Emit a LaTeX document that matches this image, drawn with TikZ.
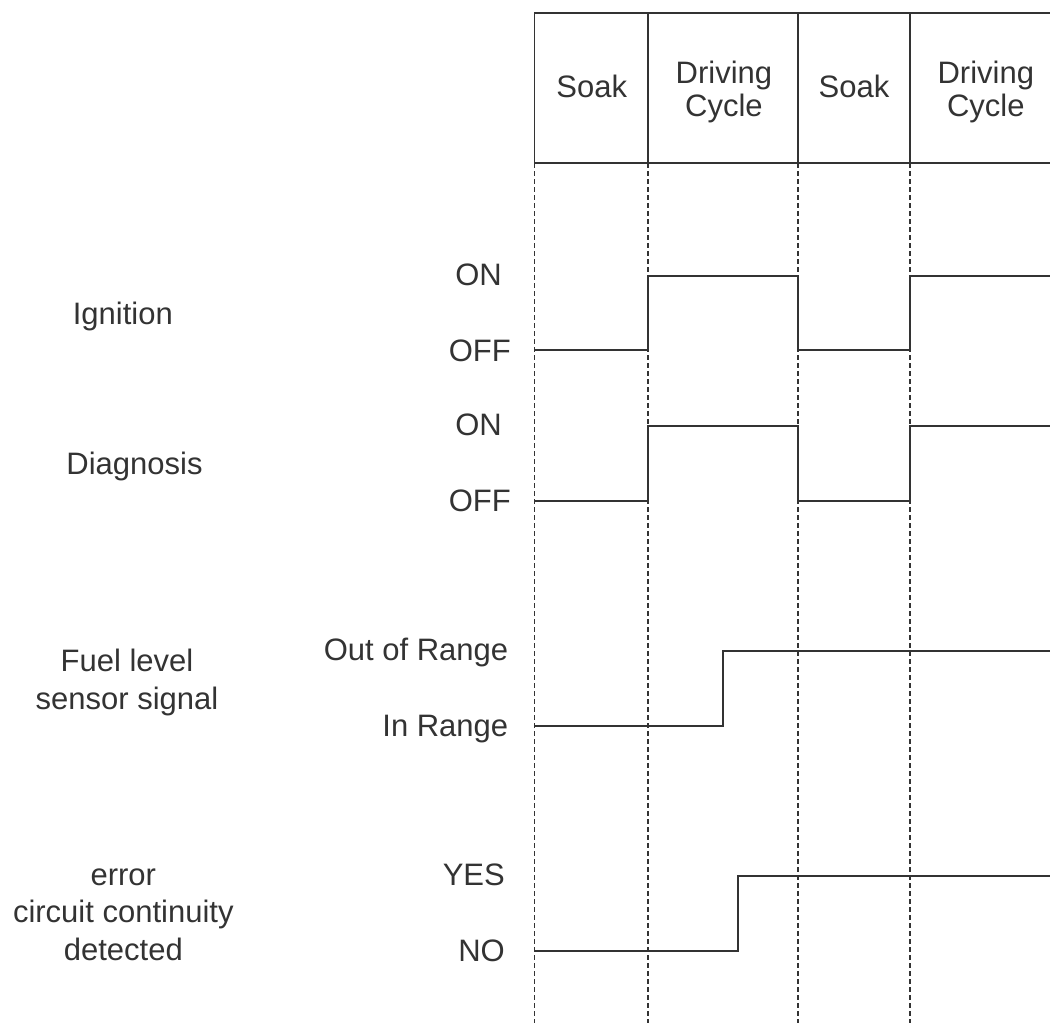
\documentclass[tikz,border=0pt]{standalone}
\usepackage{fontspec}
\setmainfont{Liberation Sans}
\definecolor{ink}{HTML}{333333}
\begin{document}
\begin{tikzpicture}[x=1pt,y=-1pt,
  every node/.style={text=ink, inner sep=0pt},
  big/.style={font=\fontsize{31}{37.5}\selectfont},
  head/.style={font=\fontsize{31}{33.4}\selectfont, align=center, anchor=base},
  frame/.style={draw=ink, line width=1.8pt},
  wave/.style={draw=ink, line width=2pt, line join=miter},
  guide/.style={draw=ink, line width=1.6pt, dash pattern=on 5pt off 3pt},
  lvl/.style={big, anchor=base east},
  sig/.style={big, align=center, anchor=base}]
\useasboundingbox (0,0) rectangle (1050,1023);
% header table
\coordinate (t0) at (534.5,13);
\coordinate (t1) at (647.7,13);
\coordinate (t2) at (797.7,13);
\coordinate (t3) at (910.2,13);
\coordinate (tR) at (1050,13);
\coordinate (b0) at (534.5,163);
\coordinate (b1) at (647.7,163);
\coordinate (b2) at (797.7,163);
\coordinate (b3) at (910.2,163);
\coordinate (bR) at (1050,163);
\coordinate (e0) at (534.5,1023);
\coordinate (e1) at (647.7,1023);
\coordinate (e2) at (797.7,1023);
\coordinate (e3) at (910.2,1023);
\draw[frame] (tR) -- (t0) -- (b0) -- (bR);
\draw[frame] (t1) -- (b1);
\draw[frame] (t2) -- (b2);
\draw[frame] (t3) -- (b3);
\foreach \i in {0,1,2,3} \draw[guide] (b\i) -- (e\i);
\node[head] (h1) at (591.8,97.3) {Soak};
\node[head] (h2) at (723.9,116.7) {Driving\\Cycle};
\node[head] (h3) at (854,97.3) {Soak};
\node[head] (h4) at (985.8,116.7) {Driving\\Cycle};
% waveforms
\draw[wave] (534.5,350) -- (647.7,350) -- (647.7,276) -- (797.7,276) -- (797.7,350) -- (910.2,350) -- (910.2,276) -- (1050,276);
\draw[wave] (534.5,500.7) -- (647.7,500.7) -- (647.7,425.7) -- (797.7,425.7) -- (797.7,500.7) -- (910.2,500.7) -- (910.2,425.7) -- (1050,425.7);
\draw[wave] (534.5,726) -- (722.8,726) -- (722.8,651) -- (1050,651);
\draw[wave] (534.5,951) -- (737.8,951) -- (737.8,876) -- (1050,876);
% level labels
\node[lvl] (ion) at (502,285.5) {ON};
\node[lvl] (ioff) at (511,361) {OFF};
\node[lvl] (don) at (502,435.5) {ON};
\node[lvl] (doff) at (511,511.5) {OFF};
\node[lvl] (fout) at (508.4,660) {Out of Range};
\node[lvl] (fin) at (508.4,736) {In Range};
\node[lvl] (eyes) at (505,885) {YES};
\node[lvl] (eno) at (505,961.7) {NO};
% signal names
\node[sig] (ign) at (122.8,324) {Ignition};
\node[sig] (diag) at (134.5,474) {Diagnosis};
\node[sig] (fuel) at (127,709.3) {Fuel level\\sensor signal};
\node[sig] (err) at (123.3,960) {error\\circuit continuity\\detected};
\end{tikzpicture}
\end{document}
